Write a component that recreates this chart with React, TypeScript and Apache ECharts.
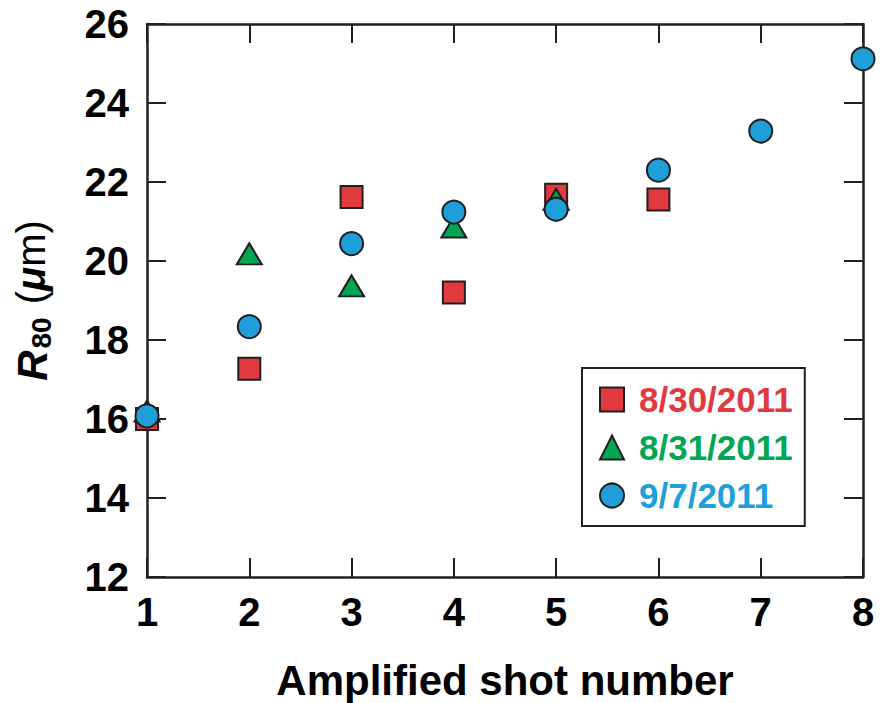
import React, { useEffect, useRef } from "react";
import * as echarts from "echarts";

const seriesNames = ["8/30/2011", "8/31/2011", "9/7/2011"];
const seriesColors = ["#e0393e", "#00a651", "#1f9fda"];
const seriesSymbols = ["rect", "triangle", "circle"];

const shots0830 = [1, 2, 3, 4, 5, 6];
const r80_0830 = [16.0, 17.27, 21.62, 19.2, 21.68, 21.56];

const shots0831 = [1, 2, 3, 4, 5];
const r80_0831 = [16.2, 20.18, 19.37, 20.86, 21.56];

const shots0907 = [1, 2, 3, 4, 5, 6, 7, 8];
const r80_0907 = [16.08, 18.34, 20.44, 21.24, 21.31, 22.3, 23.29, 25.12];

const xTicks = [1, 2, 3, 4, 5, 6, 7, 8];
const yTicks = [12, 14, 16, 18, 20, 22, 24, 26];

const FONT = "'Liberation Sans', Arial, Helvetica, sans-serif";
const INK = "#231f20";

export default function App() {
  const ref = useRef<HTMLDivElement>(null);

  useEffect(() => {
    if (!ref.current) return;
    const chart = echarts.init(ref.current, undefined, { renderer: "svg" });

    const xs = [shots0830, shots0831, shots0907];
    const ys = [r80_0830, r80_0831, r80_0907];
    const sizes: any[] = [22, [25, 21], 23];

    const series = seriesNames.map((name, i) => ({
      name,
      type: "scatter",
      data: xs[i].map((x, j) => [x, ys[i][j]]),
      symbol: seriesSymbols[i],
      symbolSize: sizes[i],
      clip: false,
      z: 3 + i,
      itemStyle: {
        color: seriesColors[i],
        borderColor: INK,
        borderWidth: 2,
        opacity: 1,
      },
      emphasis: { disabled: true },
    }));

    const tickStyle = { show: true, inside: true, length: 19, lineStyle: { color: INK, width: 2 } };
    const lineStyle = { show: true, lineStyle: { color: INK, width: 2.5 } };

    chart.setOption({
      animation: false,
      backgroundColor: "#ffffff",
      grid: { left: 147, top: 24, right: 18, bottom: 126, containLabel: false, outerBoundsMode: "none" },
      xAxis: [
        {
          type: "value",
          min: xTicks[0],
          max: xTicks[xTicks.length - 1],
          interval: 1,
          position: "bottom",
          axisLine: lineStyle,
          axisTick: tickStyle,
          splitLine: { show: false },
          axisLabel: {
            show: true,
            margin: 15,
            color: "#000",
            fontFamily: FONT,
            fontWeight: "bold",
            fontSize: 40,
          },
          name: "Amplified shot number",
          nameLocation: "middle",
          nameGap: 82,
          nameTextStyle: { color: "#000", fontFamily: FONT, fontWeight: "bold", fontSize: 42, lineHeight: 42 },
        },
        {
          type: "value",
          min: xTicks[0],
          max: xTicks[xTicks.length - 1],
          interval: 1,
          position: "top",
          axisLine: lineStyle,
          axisTick: tickStyle,
          axisLabel: { show: false },
          splitLine: { show: false },
        },
      ],
      yAxis: [
        {
          type: "value",
          min: yTicks[0],
          max: yTicks[yTicks.length - 1],
          interval: 2,
          position: "left",
          axisLine: lineStyle,
          axisTick: tickStyle,
          splitLine: { show: false },
          axisLabel: {
            show: true,
            margin: 18,
            color: "#000",
            fontFamily: FONT,
            fontWeight: "bold",
            fontSize: 40,
          },
          name: "{it|R}{sub|80}{n| (}{mu|\u03bc}{n|m)}",
          nameLocation: "middle",
          nameRotate: 90,
          nameGap: 92,
          nameTextStyle: {
            color: "#000",
            fontFamily: FONT,
            rich: {
              it: { fontFamily: FONT, fontSize: 42, fontWeight: "bold", fontStyle: "italic", color: "#000", lineHeight: 44, verticalAlign: "top" },
              sub: { fontFamily: FONT, fontSize: 28, fontWeight: "bold", color: "#000", lineHeight: 28, verticalAlign: "bottom", padding: [0, 2, 0, 2] },
              n: { fontFamily: FONT, fontSize: 40, fontWeight: "normal", color: "#000", lineHeight: 44, verticalAlign: "top" },
              mu: { fontFamily: FONT, fontSize: 40, fontWeight: "bold", fontStyle: "italic", color: "#000", lineHeight: 44, verticalAlign: "top" },
            },
          },
        },
        {
          type: "value",
          min: yTicks[0],
          max: yTicks[yTicks.length - 1],
          interval: 2,
          position: "right",
          axisLine: lineStyle,
          axisTick: tickStyle,
          axisLabel: { show: false },
          splitLine: { show: false },
        },
      ],
      legend: {
        show: true,
        orient: "vertical",
        left: 582,
        top: 368,
        backgroundColor: "#ffffff",
        borderColor: INK,
        borderWidth: 2,
        borderRadius: 0,
        padding: [13, 12, 12, 17],
        itemGap: 11,
        itemWidth: 24,
        itemHeight: 24,
        selectedMode: false,
        data: seriesNames.map((name, i) => ({
          name,
          textStyle: {
            color: seriesColors[i],
            fontFamily: FONT,
            fontWeight: "bold",
            fontSize: 35,
            lineHeight: 37,
            padding: [0, 0, 0, 10],
          },
        })),
      },
      series,
    });

    return () => chart.dispose();
  }, []);

  return (
    <div
      ref={ref}
      style={{ position: "fixed", left: 0, top: 0, width: 881, height: 703, background: "#fff" }}
    />
  );
}
